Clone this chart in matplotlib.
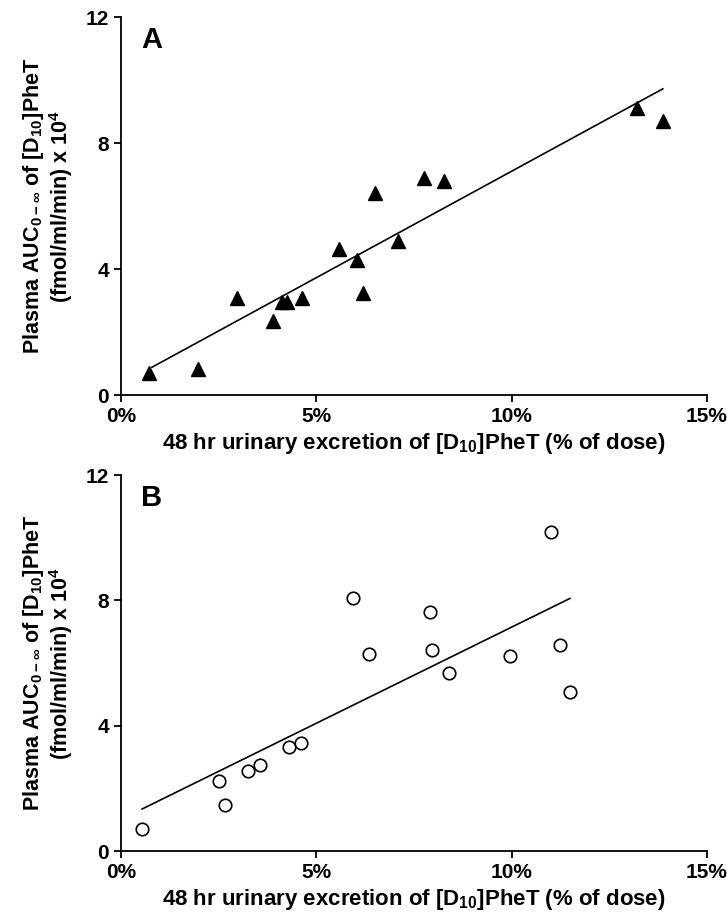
import numpy as np
import matplotlib.pyplot as plt
import matplotlib

matplotlib.rcParams['font.family'] = ['Liberation Sans', 'DejaVu Sans']
matplotlib.rcParams['mathtext.fontset'] = 'custom'
matplotlib.rcParams['mathtext.rm'] = 'Liberation Sans:bold'
matplotlib.rcParams['mathtext.bf'] = 'Liberation Sans:bold'

# panel A: urinary excretion (% of dose) vs plasma AUC (x 10^4)
a_x = [0.71, 1.96, 2.98, 3.89, 4.13, 4.26, 4.64, 5.57, 6.05, 6.19, 6.50, 7.08, 7.76, 8.27, 13.21, 13.87]
a_y = [0.69, 0.82, 3.09, 2.35, 2.96, 2.96, 3.09, 4.62, 4.30, 3.24, 6.41, 4.90, 6.89, 6.78, 9.10, 8.71]
a_fit_x = [0.79, 13.87]
a_fit_y = [0.88, 9.72]

# panel B
b_x = [0.54, 2.50, 2.65, 3.24, 3.55, 4.29, 4.62, 5.95, 6.35, 7.92, 7.95, 8.39, 9.96, 11.01, 11.23, 11.49]
b_y = [0.71, 2.24, 1.47, 2.55, 2.76, 3.32, 3.44, 8.06, 6.28, 7.62, 6.40, 5.67, 6.23, 10.19, 6.57, 5.09]
b_fit_x = [0.54, 11.49]
b_fit_y = [1.34, 8.06]

x_ticks = [0, 5, 10, 15]
x_ticklabels = ['0%', '5%', '10%', '15%']
y_ticks = [0, 4, 8, 12]

ylab = 'Plasma AUC$_{0-\\infty}$ of [D$_{10}$]PheT\n(fmol/ml/min) x 10$^{4}$'
xlab = '48 hr urinary excretion of [D$_{10}$]PheT (% of dose)'

fig = plt.figure(figsize=(7.27, 9.14), dpi=100)
ax1 = fig.add_axes([0.1664, 0.5678, 0.8061, 0.4136])
ax2 = fig.add_axes([0.1664, 0.0689, 0.8061, 0.4114])

def style(ax, letter):
    ax.set_xlim(0, 15)
    ax.set_ylim(0, 12)
    ax.set_xticks(x_ticks)
    ax.set_xticklabels(x_ticklabels)
    ax.set_yticks(y_ticks)
    for s in ['top', 'right']:
        ax.spines[s].set_visible(False)
    for s in ['left', 'bottom']:
        ax.spines[s].set_linewidth(1.3)
    ax.tick_params(direction='out', length=5, width=1.3, labelsize=15)
    for t in ax.get_xticklabels() + ax.get_yticklabels():
        t.set_fontweight('bold')
    ax.set_xlabel(xlab, fontsize=16, fontweight='bold', labelpad=4)
    ax.set_ylabel(ylab, fontsize=15.5, fontweight='bold', labelpad=8, linespacing=1.05)
    ax.text(0.035, 0.975, letter, transform=ax.transAxes, fontsize=21, fontweight='bold',
            va='top', ha='left')

ax1.plot(a_fit_x, a_fit_y, color='black', lw=1.2)
ax1.plot(a_x, a_y, linestyle='none', marker='^', ms=10, color='black', clip_on=False)
style(ax1, 'A')

ax2.plot(b_fit_x, b_fit_y, color='black', lw=1.2)
ax2.plot(b_x, b_y, linestyle='none', marker='o', ms=9, mfc='white', mec='black', mew=1.2, clip_on=False)
style(ax2, 'B')

fig.savefig('out.png', dpi=100)
